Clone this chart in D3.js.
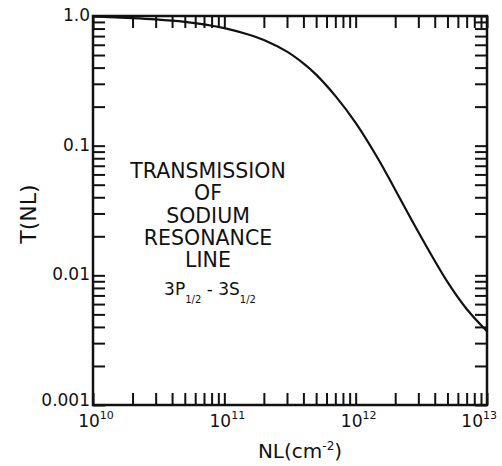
<!DOCTYPE html>
<html>
<head>
<meta charset="utf-8">
<script src="https://cdn.jsdelivr.net/npm/d3@7"></script>
<style>
  body { margin: 0; background: #fff; }
  svg { display: block; }
  text { font-family: "DejaVu Sans", sans-serif; fill: #111; }
</style>
</head>
<body>
<svg id="chart" width="502" height="466"></svg>
<script>
// values
var nlValues = [1e10, 2e10, 3e10, 5e10, 7e10, 1e11, 1.5e11, 2e11, 3e11, 4e11, 5e11, 7e11,
                1e12, 1.5e12, 2e12, 3e12, 5e12, 7e12, 1e13];
var transmission = [0.991, 0.964, 0.942, 0.902, 0.863, 0.807, 0.724, 0.653, 0.531, 0.431, 0.353, 0.242,
                    0.150, 0.0776, 0.0457, 0.0216, 0.0089, 0.0055, 0.0037];
var yTickValues = [1, 0.1, 0.01, 0.001];
var yTickLabels = ["1.0", "0.1", "0.01", "0.001"];
var xTickValues = [1e10, 1e11, 1e12, 1e13];
var xTickExponents = ["10", "11", "12", "13"];
var noteLines = ["TRANSMISSION", "OF", "SODIUM", "RESONANCE", "LINE"];

(function() {
  var svg = d3.select("#chart")
      , left = 93, right = 487, top = 16, bottom = 405
      , ink = "#111"
      ;

  var x = d3.scaleLog().domain([1e10, 1e13]).range([left, right]);
  var y = d3.scaleLog().domain([0.001, 1]).range([bottom, top]);

  // minor + decade ticks on all four sides, pointing inward
  function tickMarks(axis, transform) {
    var g = svg.append("g")
      .attr("transform", transform)
      .call(axis.tickSize(-12).tickFormat(""));
    g.select(".domain").remove();
    g.selectAll(".tick line").attr("stroke", ink).attr("stroke-width", 2);
  }
  tickMarks(d3.axisBottom(x).tickValues(x.ticks()), "translate(0," + bottom + ")");
  tickMarks(d3.axisTop(x).tickValues(x.ticks()), "translate(0," + top + ")");
  tickMarks(d3.axisLeft(y).tickValues(y.ticks()), "translate(" + left + ",0)");
  tickMarks(d3.axisRight(y).tickValues(y.ticks()), "translate(" + right + ",0)");

  svg.append("rect")
    .attr("x", left).attr("y", top)
    .attr("width", right - left).attr("height", bottom - top)
    .attr("fill", "none").attr("stroke", ink).attr("stroke-width", 2.5);

  // y labels (bottom one sits a bit higher, clear of 10^10)
  svg.append("g").selectAll("text")
    .data(yTickValues)
    .join("text")
    .attr("x", left - 3)
    .attr("y", function(d, i) { return y(d) - (i === yTickValues.length - 1 ? 5 : 1); })
    .attr("dy", "0.36em")
    .attr("text-anchor", "end")
    .style("font-size", "17px")
    .text(function(d, i) { return yTickLabels[i]; });

  // x labels as powers of ten
  var xl = svg.append("g").selectAll("text")
    .data(xTickValues)
    .join("text")
    .attr("x", function(d, i) { return i === xTickValues.length - 1 ? x(d) + 10 : x(d) + 3; })
    .attr("y", 427)
    .attr("text-anchor", function(d, i) { return i === xTickValues.length - 1 ? "end" : "middle"; })
    .style("font-size", "17px");
  xl.append("tspan").text("10");
  xl.append("tspan")
    .attr("dy", -8)
    .style("font-size", "11px")
    .text(function(d, i) { return xTickExponents[i]; });

  // axis titles
  svg.append("text")
    .attr("transform", "translate(36,214) rotate(-90)")
    .attr("text-anchor", "middle")
    .style("font-size", "22px")
    .text("T(NL)");

  var xt = svg.append("text")
    .attr("x", 300).attr("y", 458)
    .attr("text-anchor", "middle")
    .style("font-size", "20px");
  xt.append("tspan").text("NL(cm");
  xt.append("tspan").attr("dy", -8).style("font-size", "12px").text("-2");
  xt.append("tspan").attr("dy", 8).text(")");

  // curve
  var line = d3.line()
    .x(function(d) { return x(d); })
    .y(function(d, i) { return y(transmission[i]); })
    .curve(d3.curveCatmullRom.alpha(0.5));

  svg.append("path")
    .attr("d", line(nlValues))
    .attr("fill", "none")
    .attr("stroke", ink)
    .attr("stroke-width", 2.2);

  // annotation block
  svg.append("g").selectAll("text")
    .data(noteLines)
    .join("text")
    .attr("x", 208)
    .attr("y", function(d, i) { return 178 + i * 22.3; })
    .attr("text-anchor", "middle")
    .style("font-size", "20.5px")
    .text(function(d) { return d; });

  var lvl = svg.append("text")
    .attr("x", 210).attr("y", 295)
    .attr("text-anchor", "middle")
    .style("font-size", "17px");
  lvl.append("tspan").text("3P");
  lvl.append("tspan").attr("dy", 8).style("font-size", "10px").text("1/2");
  lvl.append("tspan").attr("dy", -8).text(" - 3S");
  lvl.append("tspan").attr("dy", 8).style("font-size", "10px").text("1/2");
})();
</script>
</body>
</html>
